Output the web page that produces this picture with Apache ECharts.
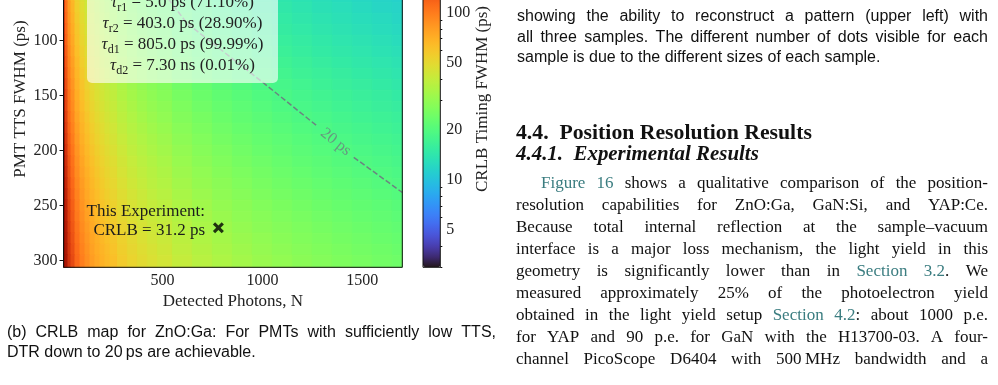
<!DOCTYPE html>
<html>
<head>
<meta charset="utf-8">
<script src="https://cdn.jsdelivr.net/npm/echarts@6.0.0/dist/echarts.min.js"></script>
<style>
  html, body { margin: 0; padding: 0; background: #fff; }
  #chart { width: 998px; height: 385px; }
</style>
</head>
<body>
<div id="chart"></div>
<script>
// ---- values ----
// detected photons (column centres) and PMT TTS FWHM (row centres)
var photons = [5, 10, 20, 35, 50, 75, 100, 125, 150, 175, 200, 225, 250, 300, 350, 400, 450, 500,
               600, 700, 800, 900, 1000, 1100, 1200, 1300, 1400, 1500, 1600, 1700];
var ttsRows = [0, 10, 20, 30, 40, 50, 60, 70, 80, 90, 100, 110, 120, 130, 140, 150,
               160, 170, 180, 190, 200, 210, 220, 230, 240, 250, 260, 270, 280, 290, 300];
// CRLB timing FWHM (ps), one row per TTS value
var crlb = [
  [194, 137, 97.2, 73.4, 61.4, 50.2, 43.5, 38.9, 35.5, 32.8, 30.7, 29.0, 27.5, 25.1, 23.2, 21.7, 20.5, 19.4, 17.7, 16.4, 15.4, 14.5, 13.7, 13.1, 12.5, 12.1, 11.6, 11.2, 10.9, 10.5],
  [195, 138, 97.4, 73.6, 61.6, 50.3, 43.6, 38.9, 35.6, 32.9, 30.8, 29.0, 27.5, 25.1, 23.3, 21.8, 20.5, 19.5, 17.8, 16.5, 15.4, 14.5, 13.8, 13.1, 12.6, 12.1, 11.6, 11.2, 10.9, 10.6],
  [196, 139, 98.0, 74.1, 62.0, 50.6, 43.9, 39.2, 35.8, 33.1, 31.0, 29.2, 27.7, 25.3, 23.4, 21.9, 20.7, 19.6, 17.9, 16.6, 15.5, 14.6, 13.9, 13.2, 12.7, 12.2, 11.7, 11.3, 11.0, 10.6],
  [198, 140, 99.1, 74.9, 62.7, 51.2, 44.3, 39.7, 36.2, 33.5, 31.4, 29.6, 28.0, 25.6, 23.7, 22.2, 20.9, 19.8, 18.1, 16.8, 15.7, 14.8, 14.0, 13.4, 12.8, 12.3, 11.9, 11.4, 11.1, 10.8],
  [201, 142, 101, 76.1, 63.7, 52.0, 45.0, 40.3, 36.8, 34.0, 31.8, 30.0, 28.5, 26.0, 24.1, 22.5, 21.2, 20.1, 18.4, 17.0, 15.9, 15.0, 14.2, 13.6, 13.0, 12.5, 12.0, 11.6, 11.3, 10.9],
  [205, 145, 103, 77.5, 64.9, 53.0, 45.9, 41.0, 37.5, 34.7, 32.4, 30.6, 29.0, 26.5, 24.5, 22.9, 21.6, 20.5, 18.7, 17.3, 16.2, 15.3, 14.5, 13.8, 13.2, 12.7, 12.3, 11.8, 11.5, 11.1],
  [210, 148, 105, 79.3, 66.3, 54.2, 46.9, 42.0, 38.3, 35.5, 33.2, 31.3, 29.7, 27.1, 25.1, 23.5, 22.1, 21.0, 19.1, 17.7, 16.6, 15.6, 14.8, 14.1, 13.5, 13.0, 12.5, 12.1, 11.7, 11.4],
  [215, 152, 108, 81.3, 68.0, 55.5, 48.1, 43.0, 39.3, 36.4, 34.0, 32.1, 30.4, 27.8, 25.7, 24.0, 22.7, 21.5, 19.6, 18.2, 17.0, 16.0, 15.2, 14.5, 13.9, 13.3, 12.9, 12.4, 12.0, 11.7],
  [221, 156, 111, 83.5, 69.9, 57.1, 49.4, 44.2, 40.4, 37.4, 35.0, 33.0, 31.3, 28.5, 26.4, 24.7, 23.3, 22.1, 20.2, 18.7, 17.5, 16.5, 15.6, 14.9, 14.3, 13.7, 13.2, 12.8, 12.4, 12.0],
  [228, 161, 114, 86.0, 72.0, 58.8, 50.9, 45.5, 41.6, 38.5, 36.0, 33.9, 32.2, 29.4, 27.2, 25.5, 24.0, 22.8, 20.8, 19.2, 18.0, 17.0, 16.1, 15.3, 14.7, 14.1, 13.6, 13.1, 12.7, 12.3],
  [235, 166, 117, 88.7, 74.2, 60.6, 52.5, 46.9, 42.9, 39.7, 37.1, 35.0, 33.2, 30.3, 28.1, 26.2, 24.7, 23.5, 21.4, 19.8, 18.6, 17.5, 16.6, 15.8, 15.2, 14.6, 14.0, 13.6, 13.1, 12.7],
  [242, 171, 121, 91.6, 76.6, 62.6, 54.2, 48.5, 44.2, 41.0, 38.3, 36.1, 34.3, 31.3, 29.0, 27.1, 25.5, 24.2, 22.1, 20.5, 19.2, 18.1, 17.1, 16.3, 15.6, 15.0, 14.5, 14.0, 13.5, 13.1],
  [250, 177, 125, 94.6, 79.2, 64.7, 56.0, 50.1, 45.7, 42.3, 39.6, 37.3, 35.4, 32.3, 29.9, 28.0, 26.4, 25.0, 22.9, 21.2, 19.8, 18.7, 17.7, 16.9, 16.2, 15.5, 15.0, 14.5, 14.0, 13.6],
  [259, 183, 130, 97.9, 81.9, 66.9, 57.9, 51.8, 47.3, 43.8, 40.9, 38.6, 36.6, 33.4, 31.0, 29.0, 27.3, 25.9, 23.6, 21.9, 20.5, 19.3, 18.3, 17.5, 16.7, 16.1, 15.5, 15.0, 14.5, 14.0],
  [268, 189, 134, 101, 84.7, 69.2, 59.9, 53.6, 48.9, 45.3, 42.3, 39.9, 37.9, 34.6, 32.0, 29.9, 28.2, 26.8, 24.4, 22.6, 21.2, 20.0, 18.9, 18.1, 17.3, 16.6, 16.0, 15.5, 15.0, 14.5],
  [277, 196, 139, 105, 87.6, 71.6, 62.0, 55.4, 50.6, 46.8, 43.8, 41.3, 39.2, 35.8, 33.1, 31.0, 29.2, 27.7, 25.3, 23.4, 21.9, 20.7, 19.6, 18.7, 17.9, 17.2, 16.6, 16.0, 15.5, 15.0],
  [287, 203, 143, 108, 90.6, 74.0, 64.1, 57.3, 52.3, 48.4, 45.3, 42.7, 40.5, 37.0, 34.3, 32.0, 30.2, 28.7, 26.2, 24.2, 22.7, 21.4, 20.3, 19.3, 18.5, 17.8, 17.1, 16.5, 16.0, 15.5],
  [296, 210, 148, 112, 93.7, 76.6, 66.3, 59.3, 54.1, 50.1, 46.9, 44.2, 41.9, 38.3, 35.4, 33.1, 31.2, 29.6, 27.1, 25.1, 23.4, 22.1, 21.0, 20.0, 19.1, 18.4, 17.7, 17.1, 16.6, 16.1],
  [307, 217, 153, 116, 96.9, 79.2, 68.5, 61.3, 56.0, 51.8, 48.5, 45.7, 43.4, 39.6, 36.6, 34.3, 32.3, 30.7, 28.0, 25.9, 24.2, 22.8, 21.7, 20.7, 19.8, 19.0, 18.3, 17.7, 17.1, 16.6],
  [317, 224, 158, 120, 100, 81.8, 70.8, 63.4, 57.8, 53.5, 50.1, 47.2, 44.8, 40.9, 37.9, 35.4, 33.4, 31.7, 28.9, 26.8, 25.0, 23.6, 22.4, 21.4, 20.5, 19.7, 18.9, 18.3, 17.7, 17.2],
  [327, 231, 164, 124, 104, 84.5, 73.2, 65.5, 59.8, 55.3, 51.7, 48.8, 46.3, 42.3, 39.1, 36.6, 34.5, 32.7, 29.9, 27.7, 25.9, 24.4, 23.1, 22.1, 21.1, 20.3, 19.6, 18.9, 18.3, 17.7],
  [338, 239, 169, 128, 107, 87.3, 75.6, 67.6, 61.7, 57.1, 53.4, 50.4, 47.8, 43.6, 40.4, 37.8, 35.6, 33.8, 30.8, 28.6, 26.7, 25.2, 23.9, 22.8, 21.8, 21.0, 20.2, 19.5, 18.9, 18.3],
  [349, 247, 174, 132, 110, 90.1, 78.0, 69.8, 63.7, 59.0, 55.2, 52.0, 49.3, 45.0, 41.7, 39.0, 36.8, 34.9, 31.8, 29.5, 27.6, 26.0, 24.7, 23.5, 22.5, 21.6, 20.8, 20.1, 19.5, 18.9],
  [360, 254, 180, 136, 114, 92.9, 80.5, 72.0, 65.7, 60.8, 56.9, 53.6, 50.9, 46.5, 43.0, 40.2, 37.9, 36.0, 32.8, 30.4, 28.5, 26.8, 25.4, 24.3, 23.2, 22.3, 21.5, 20.8, 20.1, 19.5],
  [371, 262, 186, 140, 117, 95.8, 83.0, 74.2, 67.7, 62.7, 58.7, 55.3, 52.5, 47.9, 44.3, 41.5, 39.1, 37.1, 33.9, 31.4, 29.3, 27.7, 26.2, 25.0, 24.0, 23.0, 22.2, 21.4, 20.7, 20.1],
  [382, 270, 191, 144, 121, 98.7, 85.5, 76.5, 69.8, 64.6, 60.4, 57.0, 54.1, 49.4, 45.7, 42.7, 40.3, 38.2, 34.9, 32.3, 30.2, 28.5, 27.0, 25.8, 24.7, 23.7, 22.8, 22.1, 21.4, 20.7],
  [394, 278, 197, 149, 125, 102, 88.0, 78.7, 71.9, 66.5, 62.2, 58.7, 55.7, 50.8, 47.1, 44.0, 41.5, 39.4, 35.9, 33.3, 31.1, 29.3, 27.8, 26.5, 25.4, 24.4, 23.5, 22.7, 22.0, 21.3],
  [405, 286, 203, 153, 128, 105, 90.6, 81.0, 74.0, 68.5, 64.1, 60.4, 57.3, 52.3, 48.4, 45.3, 42.7, 40.5, 37.0, 34.2, 32.0, 30.2, 28.6, 27.3, 26.2, 25.1, 24.2, 23.4, 22.7, 22.0],
  [417, 295, 208, 158, 132, 108, 93.2, 83.4, 76.1, 70.4, 65.9, 62.1, 58.9, 53.8, 49.8, 46.6, 43.9, 41.7, 38.0, 35.2, 33.0, 31.1, 29.5, 28.1, 26.9, 25.9, 24.9, 24.1, 23.3, 22.6],
  [428, 303, 214, 162, 135, 111, 95.8, 85.7, 78.2, 72.4, 67.7, 63.9, 60.6, 55.3, 51.2, 47.9, 45.2, 42.8, 39.1, 36.2, 33.9, 31.9, 30.3, 28.9, 27.7, 26.6, 25.6, 24.7, 24.0, 23.2],
  [440, 311, 220, 166, 139, 114, 98.4, 88.0, 80.4, 74.4, 69.6, 65.6, 62.3, 56.8, 52.6, 49.2, 46.4, 44.0, 40.2, 37.2, 34.8, 32.8, 31.1, 29.7, 28.4, 27.3, 26.3, 25.4, 24.6, 23.9]
];
var photonTicks = [500, 1000, 1500];
var ttsTicks = [0, 50, 100, 150, 200, 250, 300];
var cbLabels = [5, 10, 20, 50, 100];
var cbMajor = [10, 100];
var cbMinor = [3, 4, 6, 7, 8, 9, 30, 40, 60, 70, 80, 90, 200, 300];
// 20 ps contour, split where the inline label sits
var contourUpper = [[530, 62], [622, 84], [1003, 138], [1277, 178]];
var contourLower = [[1457, 206], [1700, 238]];
var contourLabel = [[1367, 192]];
var experiment = [[780, 270]];

// axis ranges
var xMin = 5, xMax = 1700, yMin = 0, yMax = 306;
var cbMin = 3, cbMax = 310;
var logMin = Math.log10(cbMin), logMax = Math.log10(cbMax);

var serif = 'Liberation Serif';
var sans = 'Liberation Sans';

// turbo colormap (polynomial approximation)
function turbo(t) {
  var r = 0.13572138 + t * (4.61539260 + t * (-42.66032258 + t * (132.13108234 + t * (-152.94239396 + t * 59.28637943))));
  var g = 0.09140261 + t * (2.19418839 + t * (4.84296658 + t * (-14.18503333 + t * (4.27729857 + t * 2.82956604))));
  var b = 0.10667330 + t * (12.64194608 + t * (-60.58204836 + t * (110.36276771 + t * (-89.90310912 + t * 27.34824973))));
  function c(v) { return Math.round(255 * Math.max(0, Math.min(1, v))); }
  return 'rgb(' + c(r) + ',' + c(g) + ',' + c(b) + ')';
}
var turboStops = [];
for (var k = 0; k <= 32; k++) turboStops.push(turbo(k / 32));

// cell edges halfway between the sampled centres
function edges(centres, lo, hi) {
  var e = [lo];
  for (var i = 1; i < centres.length; i++) e.push((centres[i - 1] + centres[i]) / 2);
  e.push(hi);
  return e;
}
var xEdges = edges(photons, xMin, xMax);
var yEdges = edges(ttsRows, yMin, yMax);

var cells = [];
crlb.forEach(function (row, j) {
  row.forEach(function (v, i) {
    var lv = Math.min(Math.max(Math.log10(v), logMin), logMax);
    cells.push([photons[i], ttsRows[j], v, lv, xEdges[i], xEdges[i + 1], yEdges[j], yEdges[j + 1]]);
  });
});

function renderCell(params, api) {
  var p0 = api.coord([api.value(4), api.value(6)]);
  var p1 = api.coord([api.value(5), api.value(7)]);
  var c = api.visual('color');
  return {
    type: 'rect',
    shape: {
      x: Math.min(p0[0], p1[0]), y: Math.min(p0[1], p1[1]),
      width: Math.abs(p1[0] - p0[0]), height: Math.abs(p1[1] - p0[1])
    },
    style: { fill: c, stroke: c, lineWidth: 1 }
  };
}

// ---- page text around the figure ----
var graphics = [];
var measure = document.createElement('canvas').getContext('2d');
var linkColor = '#3b7d80';

function placeLine(text, o) {
  var font = (o.style || 'normal') + ' ' + (o.weight || 'normal') + ' ' + o.size + 'px "' + o.family + '"';
  measure.font = font;
  var items = text.split(' ').map(function (w) {
    var segs = w.split('|').map(function (s) {
      var link = s.charAt(0) === '@';
      var t = link ? s.slice(1) : s;
      return { t: t, link: link, w: measure.measureText(t).width };
    });
    return { segs: segs, w: segs.reduce(function (a, s) { return a + s.w; }, 0) };
  });
  var total = items.reduce(function (a, it) { return a + it.w; }, 0);
  var gap = (o.justify && items.length > 1) ? (o.x1 - o.x0 - total) / (items.length - 1)
                                            : measure.measureText(' ').width;
  var x = o.x0;
  items.forEach(function (it) {
    it.segs.forEach(function (s) {
      graphics.push({
        type: 'text', x: x, y: o.y, z: 20, silent: true,
        style: {
          text: s.t, font: font, fill: s.link ? linkColor : (o.color || '#111'),
          align: 'left', verticalAlign: 'middle', textAlign: 'left', textVerticalAlign: 'middle'
        }
      });
      x += s.w;
    });
    x += gap;
  });
}

function fitSize(text, family, weight, style, width) {
  measure.font = style + ' ' + weight + ' 20px "' + family + '"';
  return 20 * width / measure.measureText(text).width;
}

// caption of the subfigure
placeLine('(b) CRLB map for ZnO:Ga: For PMTs with sufficiently low TTS,', { x0: 7, x1: 496, y: 333, size: 16, family: sans, justify: true });
placeLine('DTR down to 20\u2009ps are achievable.', { x0: 7, y: 352.5, size: 16, family: sans });

// right column: end of the previous figure caption
placeLine('showing the ability to reconstruct a pattern (upper left) with', { x0: 517, x1: 988, y: 17, size: 16, family: sans, justify: true });
placeLine('all three samples. The different number of dots visible for each', { x0: 517, x1: 988, y: 37.5, size: 16, family: sans, justify: true });
placeLine('sample is due to the different sizes of each sample.', { x0: 517, y: 58, size: 16, family: sans });

// section headings
var h1 = '4.4.  Position Resolution Results';
placeLine(h1, { x0: 516, y: 133, size: fitSize(h1, serif, 'bold', 'normal', 296), family: serif, weight: 'bold' });
var h2 = '4.4.1.  Experimental Results';
placeLine(h2, { x0: 516, y: 155, size: fitSize(h2, serif, 'bold', 'italic', 243), family: serif, weight: 'bold', style: 'italic' });

// body text
var body = [
  '@Figure @16 shows a qualitative comparison of the position-',
  'resolution capabilities for ZnO:Ga, GaN:Si, and YAP:Ce.',
  'Because total internal reflection at the sample\u2013vacuum',
  'interface is a major loss mechanism, the light yield in this',
  'geometry is significantly lower than in @Section @3.2|. We',
  'measured approximately 25% of the photoelectron yield',
  'obtained in the light yield setup @Section @4.2|: about 1000 p.e.',
  'for YAP and 90 p.e. for GaN with the H13700-03. A four-',
  'channel PicoScope D6404 with 500\u2009MHz bandwidth and a'
];
body.forEach(function (line, i) {
  placeLine(line, { x0: i === 0 ? 541 : 516, x1: 988, y: 183.5 + i * 21.95, size: 17, family: serif, justify: true });
});

// fit parameters box
graphics.push({
  type: 'rect', z: 10, silent: true,
  shape: { x: 87, y: -40, width: 191, height: 123, r: 5 },
  style: { fill: 'rgba(255,255,255,0.62)' }
});
var fitLines = [
  ['r1', ' = 5.0 ps (71.10%)'],
  ['r2', ' = 403.0 ps (28.90%)'],
  ['d1', ' = 805.0 ps (99.99%)'],
  ['d2', ' = 7.30 ns (0.01%)']
];
fitLines.forEach(function (l, i) {
  graphics.push({
    type: 'text', x: 182.5, y: 2.5 + i * 21, z: 11, silent: true,
    style: {
      text: '{t|\u03c4}{s|' + l[0] + '}{n|' + l[1] + '}',
      align: 'center', verticalAlign: 'middle', textAlign: 'center', textVerticalAlign: 'middle',
      rich: {
        t: { fontFamily: serif, fontStyle: 'italic', fontSize: 17, lineHeight: 22, fill: '#222', color: '#222' },
        s: { fontFamily: serif, fontSize: 12, lineHeight: 12, verticalAlign: 'bottom', fill: '#222', color: '#222' },
        n: { fontFamily: serif, fontSize: 17, lineHeight: 22, fill: '#222', color: '#222' }
      }
    }
  });
});

// annotation next to the marker
[['This Experiment:', 212], ['CRLB = 31.2 ps', 231]].forEach(function (l) {
  graphics.push({
    type: 'text', x: 205, y: l[1], z: 11, silent: true,
    style: {
      text: l[0], font: '17px "' + serif + '"', fill: '#1c1c1c',
      align: 'right', verticalAlign: 'middle', textAlign: 'right', textVerticalAlign: 'middle'
    }
  });
});

// ---- chart ----
var gridTop = -69.3, gridHeight = 336.6;
var tickFont = { fontFamily: serif, fontSize: 16, color: '#222' };
var nameFont = { fontFamily: serif, fontSize: 17, color: '#222' };
function plain(v) { return String(v); }

var chart = echarts.init(document.getElementById('chart'), null, { renderer: 'canvas' });
chart.setOption({
  animation: false,
  backgroundColor: '#fff',
  grid: [
    { left: 63.5, top: gridTop, width: 338.8, height: gridHeight, show: true, outerBoundsMode: 'none',
      containLabel: false, borderColor: '#111', borderWidth: 1, backgroundColor: 'transparent', z: 5 },
    { left: 423, top: gridTop, width: 17.3, height: gridHeight, show: true, outerBoundsMode: 'none',
      containLabel: false, borderColor: '#111', borderWidth: 1, backgroundColor: 'transparent', z: 5 }
  ],
  xAxis: [
    {
      gridIndex: 0, type: 'value', min: xMin, max: xMax,
      axisLine: { show: false }, splitLine: { show: false },
      axisTick: { customValues: photonTicks, length: 4, lineStyle: { color: '#111' } },
      axisLabel: Object.assign({ customValues: photonTicks, margin: 5, formatter: plain }, tickFont),
      name: 'Detected Photons, N', nameLocation: 'middle', nameGap: 24, nameTextStyle: nameFont
    },
    { gridIndex: 1, type: 'value', min: 0, max: 1, show: false }
  ],
  yAxis: [
    {
      gridIndex: 0, type: 'value', inverse: true, min: yMin, max: yMax,
      axisLine: { show: false }, splitLine: { show: false },
      axisTick: { customValues: ttsTicks, length: 4, lineStyle: { color: '#111' } },
      axisLabel: Object.assign({ customValues: ttsTicks, margin: 6, formatter: plain }, tickFont),
      name: 'PMT TTS FWHM (ps)', nameLocation: 'middle', nameRotate: 90, nameGap: 34, nameTextStyle: nameFont
    },
    {
      gridIndex: 1, type: 'value', position: 'right', min: logMin, max: logMax,
      axisLine: { show: false }, splitLine: { show: false },
      axisTick: { customValues: cbMajor.map(Math.log10), length: 4, lineStyle: { color: '#111' } },
      axisLabel: Object.assign({
        customValues: cbLabels.map(Math.log10), margin: 6,
        formatter: function (v) { return String(Math.round(Math.pow(10, v))); }
      }, tickFont),
      name: 'CRLB Timing FWHM (ps)', nameLocation: 'middle', nameRotate: 90, nameGap: 32, nameTextStyle: nameFont
    },
    {
      gridIndex: 1, type: 'value', position: 'right', min: logMin, max: logMax,
      axisLine: { show: false }, splitLine: { show: false }, axisLabel: { show: false },
      axisTick: { customValues: cbMinor.map(Math.log10), length: 2, lineStyle: { color: '#111' } }
    }
  ],
  visualMap: {
    type: 'continuous', seriesIndex: 0, dimension: 3, min: logMin, max: logMax,
    inRange: { color: turboStops }, calculable: false, hoverLink: false,
    orient: 'vertical', left: 423, top: gridTop, itemWidth: 17.3, itemHeight: gridHeight, padding: 0
  },
  series: [
    {
      type: 'custom', xAxisIndex: 0, yAxisIndex: 0, data: cells,
      encode: { x: 0, y: 1 }, renderItem: renderCell, silent: true, z: 2
    },
    {
      type: 'line', data: contourUpper, symbol: 'none', silent: true, z: 3,
      lineStyle: { type: [5.5, 2.4], width: 1.5, color: 'rgba(112,112,128,0.85)' }
    },
    {
      type: 'line', data: contourLower, symbol: 'none', silent: true, z: 3,
      lineStyle: { type: [5.5, 2.4], width: 1.5, color: 'rgba(112,112,128,0.85)' }
    },
    {
      type: 'scatter', data: contourLabel, symbolSize: 0, silent: true, z: 3,
      label: { show: true, position: 'inside', formatter: '20 ps', rotate: -39,
               fontFamily: serif, fontSize: 16, color: 'rgba(112,112,128,0.9)' }
    },
    {
      type: 'scatter', data: experiment, silent: true, z: 6, symbolSize: 11,
      symbol: 'path://M0,2L2,0L5,3L8,0L10,2L7,5L10,8L8,10L5,7L2,10L0,8L3,5Z',
      itemStyle: { color: '#000' }
    }
  ],
  graphic: graphics
});
</script>
</body>
</html>
